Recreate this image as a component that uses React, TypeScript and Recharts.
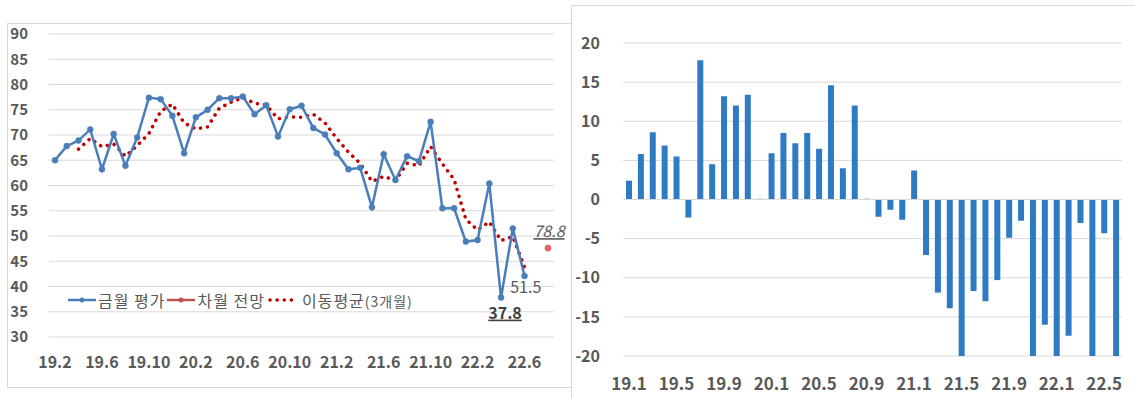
import React from 'react';
import {
    LineChart,
    Line,
    BarChart,
    Bar,
    XAxis,
    YAxis,
    CartesianGrid,
    ReferenceLine
} from 'recharts';

// 월 라벨 (좌: 19.2 ~ 22.8, 우: 19.1 ~ 22.6)
const lineMonths = [
    '19.2', '19.3', '19.4', '19.5', '19.6', '19.7', '19.8', '19.9', '19.10', '19.11', '19.12',
    '20.1', '20.2', '20.3', '20.4', '20.5', '20.6', '20.7', '20.8', '20.9', '20.10', '20.11', '20.12',
    '21.1', '21.2', '21.3', '21.4', '21.5', '21.6', '21.7', '21.8', '21.9', '21.10', '21.11', '21.12',
    '22.1', '22.2', '22.3', '22.4', '22.5', '22.6', '22.7', '22.8'
];

const barMonths = [
    '19.1', '19.2', '19.3', '19.4', '19.5', '19.6', '19.7', '19.8', '19.9', '19.10', '19.11', '19.12',
    '20.1', '20.2', '20.3', '20.4', '20.5', '20.6', '20.7', '20.8', '20.9', '20.10', '20.11', '20.12',
    '21.1', '21.2', '21.3', '21.4', '21.5', '21.6', '21.7', '21.8', '21.9', '21.10', '21.11', '21.12',
    '22.1', '22.2', '22.3', '22.4', '22.5', '22.6'
];

// 금월 평가 (19.2 ~ 22.6)
const currentScores = [
    65.0, 67.8, 68.9, 71.1, 63.2, 70.2, 63.9, 69.5, 77.4, 77.1, 73.8,
    66.4, 73.5, 75.0, 77.3, 77.3, 77.6, 74.1, 75.9, 69.7, 75.1, 75.8, 71.4,
    70.1, 66.4, 63.2, 63.5, 55.7, 66.2, 61.1, 65.8, 64.8, 72.6, 55.5, 55.5,
    48.9, 49.2, 60.4, 37.8, 51.5, 42.1
];

// 이동평균(3개월), 19.4부터
const movingAvg3 = [
    null, null, 67.2, 69.3, 67.7, 68.2, 65.8, 67.9, 70.3, 74.7, 76.1,
    72.4, 71.2, 71.6, 75.3, 76.5, 77.4, 76.3, 75.9, 73.2, 73.6, 73.5, 74.1,
    72.4, 69.3, 66.6, 64.4, 60.8, 61.8, 61.0, 64.4, 63.9, 67.7, 64.3, 61.2,
    53.3, 51.2, 52.8, 49.1, 49.9, 43.8
];

// 차월 전망 (보조축)
const outlookMonth = '22.8';
const outlookValue = 78.8;

// 전년동월대비 증감
const diffValues = [
    2.4, 5.8, 8.6, 6.9, 5.5, -2.3, 17.8, 4.5, 13.2, 12.0, 13.4, 0.1,
    5.9, 8.5, 7.2, 8.5, 6.5, 14.6, 4.0, 12.0, 0.1, -2.2, -1.3, -2.6,
    3.7, -7.1, -11.9, -13.9, -20, -11.7, -13.0, -10.3, -4.9, -2.7, -20, -16.0,
    -20, -17.4, -3.0, -20, -4.3, -20
];

const leftTicks = [30, 35, 40, 45, 50, 55, 60, 65, 70, 75, 80, 85, 90];
const rightTicks = [-20, -15, -10, -5, 0, 5, 10, 15, 20];

const lineData = lineMonths.map((month, i) => ({
    month,
    current: currentScores[i] ?? null,
    avg: movingAvg3[i] ?? null,
    outlook: month === outlookMonth ? outlookValue : null
}));

const barData = barMonths.map((month, i) => ({ month, diff: diffValues[i] }));

const FONT = '"Noto Sans CJK KR", "Noto Sans", sans-serif';
const GRAY = '#595959';
const BLUE = '#4A7EBB';
const DARK_RED = '#C00000';

const tickStyle = { fill: GRAY, fontSize: 15, fontWeight: 700, fontFamily: FONT };
const xTickStyle = { fill: GRAY, fontSize: 16, fontWeight: 700, fontFamily: FONT };

// 최근 두 달 값 표시
const CurrentLabel = (props: any) => {
    const { x, y, index, value } = props;
    if (lineMonths[index] === '22.4') {
        return (
            <text x={x + 4} y={y + 21} textAnchor="middle" fill="#404040" fontSize={16} fontWeight={700}
                fontFamily={FONT} style={{ textDecoration: 'underline' }}>
                {value}
            </text>
        );
    }
    if (lineMonths[index] === '22.5') {
        return (
            <text x={x + 13} y={y + 65} textAnchor="middle" fill={GRAY} fontSize={16} fontFamily={FONT}>
                {value}
            </text>
        );
    }
    return null;
};

const OutlookLabel = (props: any) => {
    const { x, y, value } = props;
    if (value == null) return null;
    return (
        <text x={x + 1} y={y - 11} textAnchor="middle" fill={GRAY} fontSize={16} fontStyle="italic"
            fontFamily={FONT} style={{ textDecoration: 'underline' }}>
            {value}
        </text>
    );
};

const LegendBox = () => (
    <div style={{
        position: 'absolute', left: 68, top: 289, height: 22, display: 'flex', alignItems: 'center',
        fontFamily: FONT, fontSize: 16, color: GRAY, whiteSpace: 'nowrap', letterSpacing: 1
    }}>
        <svg width={28} height={10} style={{ marginRight: 2 }}>
            <line x1={0} y1={5} x2={28} y2={5} stroke={BLUE} strokeWidth={2.5} />
            <circle cx={14} cy={5} r={2.5} fill={BLUE} />
        </svg>
        <span style={{ marginRight: 2 }}>금월 평가</span>
        <svg width={28} height={10} style={{ marginRight: 2 }}>
            <line x1={0} y1={5} x2={28} y2={5} stroke="#C0504D" strokeWidth={2.5} />
            <circle cx={14} cy={5} r={2.5} fill="#C0504D" />
        </svg>
        <span style={{ marginRight: 2 }}>차월 전망</span>
        <svg width={30} height={10} style={{ marginRight: 5 }}>
            <line x1={3} y1={5} x2={28} y2={5} stroke={DARK_RED} strokeWidth={3.5}
                strokeDasharray="0.1 7" strokeLinecap="round" />
        </svg>
        <span>이동평균<span style={{ fontSize: 14 }}>(3개월)</span></span>
    </div>
);

export default function App() {
    return (
        <div style={{ position: 'absolute', left: 0, top: 0, width: 1135, height: 398, background: '#fff', overflow: 'hidden' }}>
            <div style={{ position: 'absolute', left: 7, top: 23, width: 563, height: 363, border: '1px solid #d9d9d9' }} />
            <div style={{ position: 'absolute', left: 571, top: 5, width: 580, height: 420, border: '1px solid #d9d9d9' }} />

            <div style={{ position: 'absolute', left: 0, top: 0 }}>
                <LineChart width={571} height={398} data={lineData}
                    margin={{ top: 34, right: 17, left: 0, bottom: 31 }}>
                    <CartesianGrid vertical={false} stroke="#d9d9d9" />
                    <XAxis dataKey="month" interval={3} height={30} axisLine={false} tickLine={false}
                        padding={{ left: 6, right: 6 }}
                        tickSize={0} tickMargin={20} tick={xTickStyle} />
                    <YAxis domain={[30, 90]} ticks={leftTicks} width={49} axisLine={false} tickLine={false}
                        tickSize={0} tickMargin={21} tick={tickStyle} interval={0} />
                    <YAxis yAxisId="fc" orientation="right" domain={[70, 100]} width={0} hide />
                    <Line type="linear" dataKey="avg" name="이동평균(3개월)" stroke={DARK_RED} strokeWidth={3.5}
                        strokeDasharray="0.1 7" strokeLinecap="round" dot={false} isAnimationActive={false} />
                    <Line type="linear" dataKey="current" name="금월 평가" stroke={BLUE} strokeWidth={2.5}
                        dot={{ r: 3, fill: BLUE, stroke: BLUE, strokeWidth: 0.5 }} label={<CurrentLabel />}
                        isAnimationActive={false} />
                    <Line yAxisId="fc" type="linear" dataKey="outlook" name="차월 전망" stroke="#C0504D"
                        dot={{ r: 3, fill: '#E06666', stroke: '#E06666' }} label={<OutlookLabel />}
                        isAnimationActive={false} />
                </LineChart>
            </div>
            <LegendBox />

            <div style={{ position: 'absolute', left: 571, top: 0 }}>
                <BarChart width={564} height={398} data={barData}
                    margin={{ top: 43, right: 13, left: 0, bottom: 12 }}>
                    <CartesianGrid vertical={false} stroke="#d9d9d9" />
                    <XAxis dataKey="month" interval={3} height={30} axisLine={false} tickLine={false}
                        tickSize={0} tickMargin={22} tick={{ ...xTickStyle, fontSize: 17 }} />
                    <YAxis domain={[-20, 20]} ticks={rightTicks} width={52} axisLine={false} tickLine={false}
                        tickSize={0} tickMargin={23} tick={{ ...tickStyle, fontSize: 16 }} interval={0}
                        allowDataOverflow />
                    <ReferenceLine y={0} stroke="#d9d9d9" />
                    <Bar dataKey="diff" fill="#2E7BC4" barSize={6} isAnimationActive={false} />
                </BarChart>
            </div>
        </div>
    );
}
